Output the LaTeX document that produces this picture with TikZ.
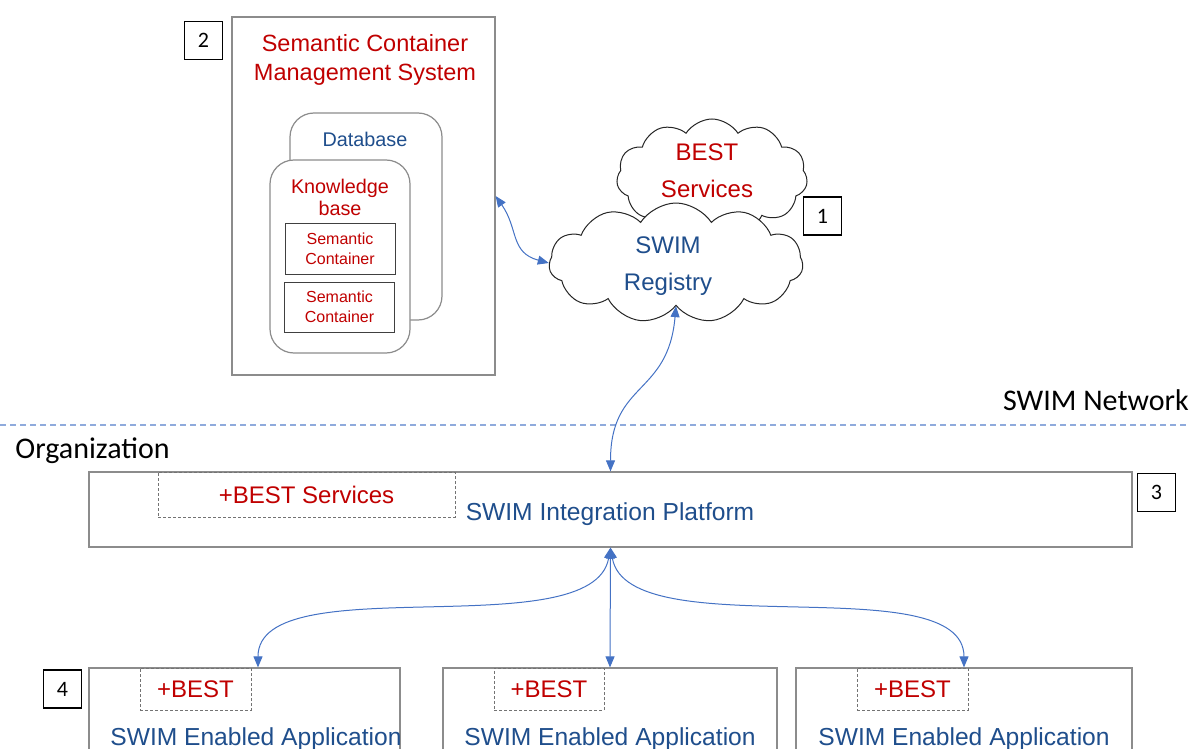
\documentclass[tikz,border=0pt]{standalone}
\usepackage{fontspec}
\setmainfont{Liberation Sans}
\newfontfamily\calibri{Carlito}
\usetikzlibrary{positioning,shapes.symbols,arrows.meta}
\definecolor{txtred}{RGB}{192,0,0}
\definecolor{txtblue}{RGB}{31,78,140}
\definecolor{linkblue}{RGB}{68,114,196}
\definecolor{netblue}{RGB}{143,170,220}
\definecolor{boxgray}{RGB}{140,140,140}

\begin{document}
\begin{tikzpicture}[x=0.5pt,y=0.5pt,
    outerbox/.style={rectangle, draw=boxgray, fill=white, line width=0.6pt, inner sep=0pt},
    roundbox/.style={rectangle, rounded corners=12pt, draw=boxgray, fill=white, line width=0.6pt, inner sep=0pt},
    scbox/.style={rectangle, draw=black!75, fill=white, line width=0.5pt, minimum width=55pt, minimum height=25pt, inner sep=0pt, align=center, text=txtred, font=\fontsize{8}{10}\selectfont},
    numbox/.style={rectangle, draw=black, fill=white, line width=0.6pt, minimum width=19pt, minimum height=19pt, inner sep=0pt, font=\calibri\fontsize{11}{13}\selectfont},
    bestbox/.style={rectangle, draw=black!55, dash pattern=on 1.5pt off 1pt, line width=0.4pt, inner sep=0pt, text=txtred, font=\fontsize{12}{14}\selectfont},
    cloudnode/.style={cloud, cloud puffs=11, cloud puff arc=115, cloud ignores aspect, draw=black!85, fill=white, line width=0.5pt, inner sep=0pt},
    cloudtext/.style={align=center, font=\fontsize{12}{18.5}\selectfont},
    conn/.style={{Triangle[length=5.5pt,width=4.5pt]}-{Triangle[length=5.5pt,width=4.5pt]}, draw=linkblue, line width=0.5pt},
    ]
    \clip (0,0) rectangle (1190,-749);

    %Network split
    \coordinate (netL) at (0,-425);
    \coordinate (netR) at (1190,-425);
    \draw[netblue, dash pattern=on 3pt off 2pt, line width=0.6pt] (netL) -- (netR);
    \node[anchor=east, inner sep=0pt, font=\calibri\fontsize{15}{17}\selectfont] (netlabel) at (1189,-400) {SWIM Network};
    \node[anchor=west, inner sep=0pt, font=\calibri\fontsize{15}{17}\selectfont] (orglabel) at (15,-450.5) {Organization};

    %Semantic container management system
    \node[outerbox, minimum width=131.5pt, minimum height=179pt] (scms) at (363.5,-196) {};
    \node[text=txtred, align=center, font=\fontsize{11.75}{14.5}\selectfont] (scmstitle) at (365,-60) {Semantic Container\\Management System};
    \node[roundbox, minimum width=76pt, minimum height=103.5pt] (db) at (366,-216.5) {};
    \node[text=txtblue, font=\fontsize{9.9}{11}\selectfont] (dbtext) at (365,-139) {Database};
    \node[roundbox, minimum width=70pt, minimum height=96.5pt] (kb) at (340,-256.5) {};
    \node[text=txtred, align=center, font=\fontsize{9.9}{11}\selectfont] (kbtext) at (340,-197) {Knowledge\\base};
    \node[scbox] (sc1) at (340,-249) {Semantic\\Container};
    \node[scbox] (sc2) at (339.5,-307) {Semantic\\Container};
    \node[numbox] (num2) at (203.5,-40.5) {2};

    %Clouds
    \node[cloudnode, minimum width=95.5pt, minimum height=58pt] (best) at (712,-177) {};
    \node[cloudtext, text=txtred] (besttext) at (707,-171) {BEST\\Services};
    \node[cloudnode, minimum width=127pt, minimum height=60pt] (swim) at (676,-263) {};
    \node[cloudtext, text=txtblue] (swimtext) at (668,-266) {SWIM\\Registry};
    \node[numbox] (num1) at (822.5,-216) {1};

    %Integration platform
    \node[outerbox, minimum width=521.5pt, minimum height=37.5pt] (plat) at (610.5,-509.5) {};
    \node[bestbox, minimum width=148.5pt, minimum height=22.5pt] (bestsvc) at (306.5,-494.5) {+BEST Services};
    \node[text=txtblue, font=\fontsize{12.3}{14}\selectfont] (plattext) at (610,-514) {SWIM Integration Platform};
    \node[numbox] (num3) at (1156.5,-492.5) {3};

    %Applications
    \node[outerbox, minimum width=155.5pt, minimum height=55pt] (app1) at (244.5,-723) {};
    \node[outerbox, minimum width=167pt, minimum height=55pt] (app2) at (610,-723) {};
    \node[outerbox, minimum width=168pt, minimum height=55pt] (app3) at (964,-723) {};
    \node[bestbox, minimum width=55.5pt, minimum height=21pt] (bestA) at (195.5,-689) {+BEST};
    \node[bestbox, minimum width=55pt, minimum height=21pt] (bestB) at (549,-689) {+BEST};
    \node[bestbox, minimum width=55.5pt, minimum height=21pt] (bestC) at (912.5,-689) {+BEST};
    \node[text=txtblue, font=\fontsize{12.3}{14}\selectfont] (apptextA) at (256,-739) {SWIM Enabled Application};
    \node[text=txtblue, font=\fontsize{12.3}{14}\selectfont] (apptextB) at (610,-739) {SWIM Enabled Application};
    \node[text=txtblue, font=\fontsize{12.3}{14}\selectfont] (apptextC) at (964,-739) {SWIM Enabled Application};
    \node[numbox] (num4) at (62.5,-689) {4};

    %Lines
    \draw[conn] (scms.east) to[out=-55,in=165,looseness=1.2] (swim.west);
    \draw[conn] (swim.south) to[out=-95,in=90,looseness=1.3] (plat.north);
    \draw[conn] (plat.south) to[out=-100,in=90,looseness=0.7] ([xshift=6.75pt]app1.north);
    \draw[conn] (plat.south) -- (app2.north);
    \draw[conn] (plat.south) to[out=-80,in=90,looseness=0.7] (app3.north);
\end{tikzpicture}
\end{document}
